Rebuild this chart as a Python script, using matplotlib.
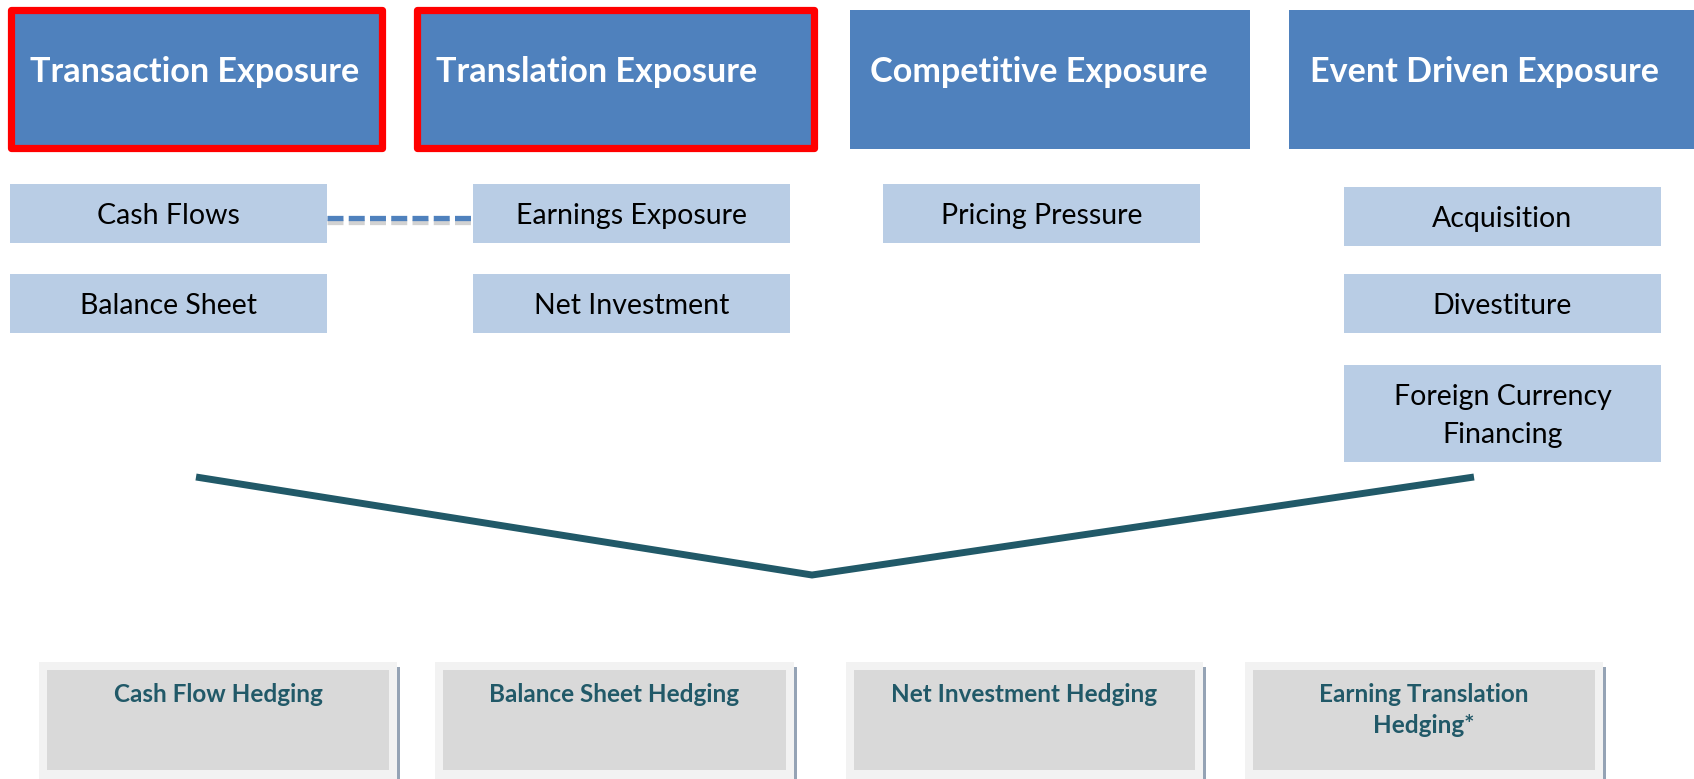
import matplotlib
matplotlib.use('Agg')
import matplotlib.pyplot as plt
from matplotlib.patches import Rectangle
import matplotlib.patheffects as pe

plt.rcParams['font.family'] = ['Lato', 'DejaVu Sans']
plt.rcParams['lines.scale_dashes'] = False

# ---------------- content ----------------
header_labels = ['Transaction Exposure', 'Translation Exposure',
                 'Competitive Exposure', 'Event Driven Exposure']
header_highlighted = [True, True, False, False]
sub_items = [['Cash Flows', 'Balance Sheet'],
             ['Earnings Exposure', 'Net Investment'],
             ['Pricing Pressure'],
             ['Acquisition', 'Divestiture', 'Foreign Currency\nFinancing']]
linked_items = ('Cash Flows', 'Earnings Exposure')
hedge_labels = ['Cash Flow Hedging', 'Balance Sheet Hedging',
                'Net Investment Hedging', 'Earning Translation\nHedging*']

# ---------------- layout (pixels) ----------------
W, H = 1694, 779
header_x = [(11, 382), (416.5, 813.5), (850, 1250), (1289, 1710)]
header_y_hl = (10, 148)
header_y = (10, 149)
header_text_x = [30, 436, 870, 1310]
header_baseline = 82

sub_x = [(10, 327), (473, 790), (883, 1200), (1344, 1661)]
sub_y = [[(184, 243), (274, 333)],
         [(184, 243), (274, 333)],
         [(184, 243)],
         [(187, 246), (274, 333), (365, 462)]]

v_x = [196, 812, 1474]
v_y = [477, 575, 477]

hedge_x = [(39, 397), (435, 794), (846, 1203), (1245, 1603)]
hedge_top = 662

# ---------------- colours ----------------
BLUE = '#4F81BD'
RED = '#FF0000'
LIGHT = '#B9CDE5'
TEAL = '#215968'
FRAME = '#F2F2F2'
INNER = '#D9D9D9'
SHADOW = '#95A3B5'

fig = plt.figure(figsize=(W / 100, H / 100), dpi=100)
ax = fig.add_axes([0, 0, 1, 1])
ax.set_xlim(0, W)
ax.set_ylim(H, 0)
ax.axis('off')

# headers
for lab, hl, (x0, x1), tx in zip(header_labels, header_highlighted, header_x, header_text_x):
    if hl:
        y0, y1 = header_y_hl
        ax.add_patch(Rectangle((x0, y0), x1 - x0, y1 - y0, facecolor=BLUE,
                               edgecolor=RED, linewidth=5.2, joinstyle='round', zorder=2))
    else:
        y0, y1 = header_y
        ax.add_patch(Rectangle((x0, y0), x1 - x0, y1 - y0, facecolor=BLUE,
                               edgecolor='none', zorder=2))
    ax.text(tx, header_baseline, lab, color='white', fontsize=24.6, fontweight='bold',
            ha='left', va='baseline', zorder=3)

# sub items
centers = {}
for items, (x0, x1), ys in zip(sub_items, sub_x, sub_y):
    for item, (y0, y1) in zip(items, ys):
        ax.add_patch(Rectangle((x0, y0), x1 - x0, y1 - y0, facecolor=LIGHT,
                               edgecolor='none', zorder=2))
        lines = item.split('\n')
        cy = (y0 + y1) / 2
        spacing = 38
        first = cy + 10.5 - spacing * (len(lines) - 1) / 2
        for i, ln in enumerate(lines):
            ax.text((x0 + x1) / 2, first + i * spacing, ln, color='black',
                    fontsize=20.5, ha='center', va='baseline', zorder=3)
        centers[item] = (x0, x1, y0, y1)

# dashed connector
a = centers[linked_items[0]]
b = centers[linked_items[1]]
ax.plot([a[1], b[0]], [218, 218], color=BLUE, linewidth=3.8,
        linestyle=(0, (11.5, 3.8)), solid_capstyle='butt', dash_capstyle='butt', zorder=3,
        path_effects=[pe.SimpleLineShadow(offset=(0, -3), shadow_color='#7F7F7F', alpha=0.35),
                      pe.Normal()])

# V bracket
ax.plot(v_x, v_y, color=TEAL, linewidth=5.0, solid_capstyle='butt',
        solid_joinstyle='miter', zorder=3)

# hedging boxes
for lab, (x0, x1) in zip(hedge_labels, hedge_x):
    ax.add_patch(Rectangle((x0 + 3, hedge_top + 5), x1 - x0, 200, facecolor=SHADOW,
                           edgecolor='none', zorder=1))
    ax.add_patch(Rectangle((x0, hedge_top), x1 - x0, 200, facecolor=FRAME,
                           edgecolor='none', zorder=2))
    ax.add_patch(Rectangle((x0 + 8, hedge_top + 8), x1 - x0 - 16, 100, facecolor=INNER,
                           edgecolor='none', zorder=2))
    for i, ln in enumerate(lab.split('\n')):
        ax.text((x0 + x1) / 2, 702 + i * 31, ln, color=TEAL, fontsize=17.5,
                fontweight='bold', ha='center', va='baseline', zorder=3)

fig.savefig('out.png', dpi=100)
